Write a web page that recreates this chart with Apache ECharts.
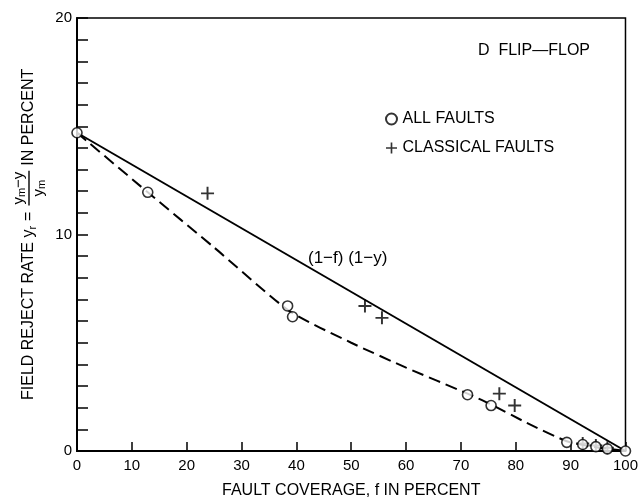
<!DOCTYPE html>
<html><head><meta charset="utf-8">
<script src="https://cdn.jsdelivr.net/npm/echarts@6/dist/echarts.min.js"></script>
<style>html,body{margin:0;padding:0;background:#fff}#c{width:641px;height:504px}</style>
</head><body><div id="c"></div>
<script>
// ---- data ----
const xTickValues = [0,10,20,30,40,50,60,70,80,90,100];
const yTickLabels = [0,10,20];
const allFaultsF = [0, 12.9, 38.4, 39.3, 71.2, 75.5, 89.3, 92.2, 94.6, 96.7, 100];
const allFaultsY = [14.7, 11.95, 6.7, 6.2, 2.6, 2.1, 0.4, 0.3, 0.2, 0.1, 0];
const classicalF = [23.8, 52.5, 55.6, 77.0, 79.8, 92.2, 94.6, 96.7];
const classicalY = [11.9, 6.7, 6.15, 2.65, 2.1, 0.35, 0.25, 0.15];
const modelF = [0, 100];
const modelY = [14.7, 0];
const fitF = [0, 12.9, 25, 38.8, 50, 60, 71.2, 75.5, 82, 89.3, 94, 100];
const fitY = [14.7, 11.95, 9.4, 6.45, 5.0, 3.85, 2.65, 2.15, 1.3, 0.45, 0.2, 0];

const FONT = '"Liberation Sans", Arial, Helvetica, sans-serif';
const zip = (a,b) => a.map((v,i) => [v, b[i]]);
const PLUS = 'path://M4.25,0H5.75V4.25H10V5.75H5.75V10H4.25V5.75H0V4.25H4.25Z';

const mctx = document.createElement('canvas').getContext('2d');
function tw(t, size){ mctx.font = size + 'px ' + FONT; return mctx.measureText(t).width; }

// y-axis title built in a rotated group
const S = 16, SS = 11, FS = 15;
const kids = [];
let cx = 0;
function txt(t, x, y, size){ kids.push({type:'text', x:x, y:y, style:{text:t, font: size+'px '+FONT, fill:'#000', align:'left', verticalAlign:'middle'}}); return tw(t,size); }
cx += txt('FIELD REJECT RATE y', cx, 0, S);
cx += txt('r', cx, 4, SS);
cx += 5;
cx += txt('=', cx, 0, S);
cx += 6;
const fx = cx;
let nw = tw('y',FS) + tw('m',SS) + tw('\u2212y',FS);
let dw = tw('y',FS) + tw('m',SS);
let fw = nw + 2;
let nx = fx + (fw - nw)/2;
nx += txt('y', nx, -10, FS); nx += txt('m', nx, -7, SS); txt('\u2212y', nx, -10, FS);
let dx = fx + (fw - dw)/2;
dx += txt('y', dx, 10, FS); txt('m', dx, 13, SS);
kids.push({type:'line', shape:{x1:fx, y1:0, x2:fx+fw, y2:0}, style:{stroke:'#000', lineWidth:1.4}});
cx = fx + fw + 5;
txt('IN PERCENT', cx, 0, S);

const chart = echarts.init(document.getElementById('c'), null, {renderer:'canvas'});
chart.setOption({
  animation:false,
  backgroundColor:'#fff',
  grid:{left:77, right:12, top:18, bottom:48, show:true, borderColor:'#000', borderWidth:1.5, backgroundColor:'transparent'},
  xAxis:{type:'value', min:0, max:100, interval:10,
    axisLine:{show:true, onZero:false, lineStyle:{color:'#000', width:2}},
    axisTick:{show:true, inside:true, length:9, lineStyle:{color:'#000', width:1.5}},
    axisLabel:{color:'#000', fontSize:15, fontFamily:FONT, margin:7, formatter:v => xTickValues.includes(v) ? String(v) : ''},
    splitLine:{show:false},
    name:'FAULT COVERAGE, f IN PERCENT', nameLocation:'middle', nameGap:32,
    nameTextStyle:{color:'#000', fontSize:16, fontFamily:FONT}},
  yAxis:{type:'value', min:0, max:20, interval:1,
    axisLine:{show:true, onZero:false, lineStyle:{color:'#000', width:2}},
    axisTick:{show:true, inside:true, length:11, lineStyle:{color:'#000', width:1.5}},
    axisLabel:{color:'#000', fontSize:15, fontFamily:FONT, margin:5, showMinLabel:true, showMaxLabel:true,
      formatter:v => yTickLabels.includes(v) ? String(v) : ''},
    splitLine:{show:false}},
  legend:{show:true, orient:'vertical', left:380, top:106, itemGap:13, itemWidth:12, itemHeight:11,
    data:[{name:'ALL FAULTS', icon:'circle'},{name:'CLASSICAL FAULTS', icon:PLUS}],
    textStyle:{color:'#000', fontSize:16, fontFamily:FONT}},
  graphic:[
    {type:'group', x:29, y:400, rotation:Math.PI/2, children:kids},
    {type:'text', left:478, top:43, style:{text:'D  FLIP\u2014FLOP', font:'16px '+FONT, fill:'#000'}},
    {type:'text', left:308, top:250, style:{text:'(1\u2212f) (1\u2212y)', font:'17px '+FONT, fill:'#000'}}
  ],
  series:[
    {type:'line', name:'model', data:zip(modelF, modelY), symbol:'none', lineStyle:{color:'#000', width:2}, silent:true, z:2},
    {type:'line', name:'fit', data:zip(fitF, fitY), smooth:0.2, symbol:'none', lineStyle:{color:'#000', width:2, type:[12,6]}, silent:true, z:2},
    {type:'scatter', name:'CLASSICAL FAULTS', data:zip(classicalF, classicalY), symbol:PLUS, symbolSize:13, clip:false,
      itemStyle:{color:'#000'}, z:3},
    {type:'scatter', name:'ALL FAULTS', data:zip(allFaultsF, allFaultsY), symbol:'circle', symbolSize:10, clip:false,
      itemStyle:{color:'#fff', borderColor:'#000', borderWidth:1.6}, z:4}
  ]
});
</script></body></html>
